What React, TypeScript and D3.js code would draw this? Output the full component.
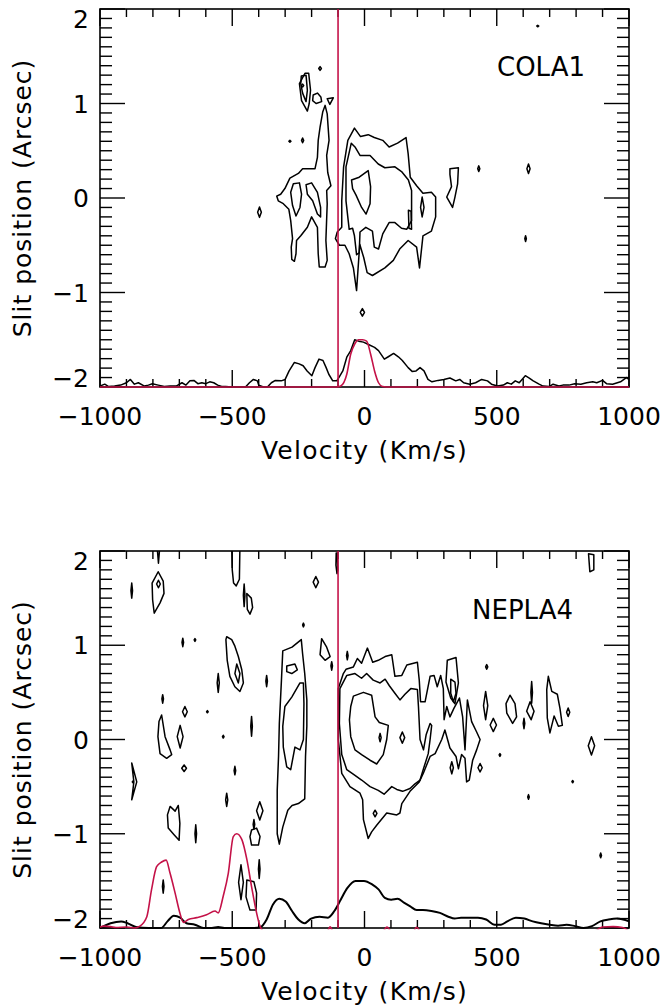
import React from 'react';
import * as d3 from 'd3';

type Pt = [number, number];
type Blob = [number, number, number, number]; // velocity, slit pos, half-width (km/s), half-height (arcsec)

// ---------- axes ----------
const velocityDomain: [number, number] = [-1000, 1000];
const slitDomain: [number, number] = [-2, 2];
const xMajorTicks = [-1000, -500, 0, 500, 1000];
const xMinorStep = 100;
const yMajorTicks = [-2, -1, 0, 1, 2];
const yMinorStep = 0.1;
const systemicVelocity = -100;

// ---------- COLA1 contours [velocity km/s, slit arcsec] ----------
const cola1LeftOuter: Pt[] = [[-149,0.98],[-141,0.89],[-134,0.61],[-143,0.45],[-139,0.27],[-127,0.13],[-143,0.08],[-141,-0.06],[-146,-0.45],[-141,-0.66],[-149,-0.73],[-171,-0.73],[-175,-0.59],[-178,-0.31],[-200,-0.2],[-216,-0.31],[-241,-0.4],[-257,-0.45],[-259,-0.59],[-265,-0.67],[-275,-0.65],[-277,-0.52],[-272,-0.43],[-279,-0.24],[-286,-0.12],[-307,-0.06],[-326,-0.03],[-332,0.02],[-317,0.04],[-301,0.1],[-282,0.21],[-250,0.26],[-234,0.31],[-187,0.31],[-178,0.43],[-175,0.61],[-168,0.75],[-158,0.91]];
const cola1LeftInnerA: Pt[] = [[-269,0.15],[-246,0.16],[-238,0.04],[-244,-0.1],[-259,-0.19],[-272,-0.08],[-279,0.06]];
const cola1LeftInnerB: Pt[] = [[-221,0.14],[-200,0.16],[-178,0.06],[-166,-0.1],[-166,-0.2],[-178,-0.17],[-196,-0.03],[-216,0.04]];
const cola1BlobOuter: Pt[] = [[-225,1.32],[-211,1.32],[-204,1.14],[-209,1.0],[-216,0.92],[-238,1.03],[-246,1.21]];
const cola1BlobInner: Pt[] = [[-239,1.29],[-221,1.3],[-216,1.14],[-221,1.02],[-234,1.11],[-241,1.21]];
const cola1Small1: Pt[] = [[-194,1.09],[-178,1.11],[-165,1.07],[-162,1.02],[-183,1.0],[-196,1.03]];
const cola1Small2: Pt[] = [[-141,1.05],[-118,1.06],[-131,0.99]];
const cola1CenterOuter: Pt[] = [[-38,0.74],[-15,0.65],[14,0.67],[37,0.64],[69,0.61],[93,0.54],[125,0.58],[157,0.64],[165,0.47],[173,0.22],[197,0.13],[221,0.05],[253,0.06],[269,0.01],[269,-0.2],[253,-0.35],[221,-0.4],[208,-0.74],[197,-0.52],[165,-0.45],[133,-0.54],[109,-0.66],[77,-0.74],[30,-0.82],[10,-0.79],[-3,-0.63],[-18,-0.49],[-30,-0.98],[-42,-0.74],[-58,-0.59],[-74,-0.5],[-95,-0.5],[-110,-0.43],[-103,-0.36],[-86,-0.31],[-86,-0.03],[-79,0.33],[-63,0.61]];
const cola1CenterMid: Pt[] = [[-50,0.58],[-36,0.54],[-17,0.45],[21,0.45],[52,0.36],[77,0.32],[115,0.33],[140,0.28],[166,0.19],[178,0.08],[178,-0.24],[160,-0.33],[140,-0.32],[115,-0.26],[93,-0.26],[69,-0.38],[53,-0.54],[37,-0.52],[30,-0.35],[5,-0.31],[-17,-0.36],[-20,-0.58],[-30,-0.6],[-38,-0.4],[-45,-0.32],[-58,-0.33],[-70,-0.03],[-70,0.33]];
const cola1CenterInner: Pt[] = [[-49,0.19],[-20,0.22],[14,0.29],[23,0.12],[21,-0.06],[6,-0.17],[-11,-0.1],[-32,0.03],[-45,0.1]];
const cola1LoopA: Pt[] = [[218,0.01],[225,-0.1],[218,-0.2],[212,-0.1]];
const cola1LoopB: Pt[] = [[166,-0.13],[176,-0.14],[178,-0.33],[168,-0.32]];
const cola1RightBlob: Pt[] = [[323,0.31],[355,0.32],[352,0.15],[342,0.01],[333,-0.1],[311,0.01],[329,0.12],[323,0.25]];
const cola1Rings: Pt[][] = [cola1LeftOuter, cola1LeftInnerA, cola1LeftInnerB, cola1BlobOuter, cola1BlobInner, cola1Small1, cola1Small2, cola1CenterOuter, cola1CenterMid, cola1CenterInner, cola1LoopA, cola1LoopB, cola1RightBlob];
const cola1Blobs: Blob[] = [[-168,1.37,5,0.02],[-234,1.19,4,0.015],[-282,0.6,4,0.01],[-234,0.61,4,0.025],[-397,-0.15,7,0.055],[-8,-1.21,8,0.04],[432,0.31,4,0.03],[620,0.31,6,0.05],[609,-0.43,3,0.03],[655,1.82,4,0.008]];

// COLA1 spectra [velocity, flux in arcsec-axis units above the lower edge]
const cola1SpecBlack: Pt[] = [[-1000,0.01],[-982,0.03],[-967,0.005],[-945,0.01],[-922,0.02],[-900,0.045],[-885,0.08],[-870,0.03],[-855,0.045],[-832,0.01],[-817,0.02],[-802,0.035],[-780,0.02],[-757,0.005],[-735,0.01],[-712,0.01],[-690,0.045],[-675,0.02],[-660,0.065],[-645,0.07],[-630,0.035],[-615,0.045],[-600,0.035],[-585,0.055],[-570,0.045],[-555,0.02],[-540,0.005],[-525,0.005],[-500,0],[-450,0],[-435,0.045],[-420,0.08],[-405,0.065],[-400,0.02],[-382,0],[-367,0],[-352,0.045],[-337,0.07],[-315,0.065],[-300,0.08],[-285,0.17],[-265,0.26],[-247,0.245],[-232,0.225],[-217,0.17],[-199,0.12],[-187,0.205],[-172,0.295],[-157,0.28],[-145,0.205],[-135,0.135],[-120,0.065],[-105,0.065],[-97,0.1],[-82,0.17],[-67,0.315],[-52,0.385],[-37,0.5],[-22,0.485],[-4,0.475],[15,0.45],[38,0.42],[53,0.385],[75,0.295],[90,0.32],[110,0.355],[128,0.32],[143,0.28],[165,0.205],[180,0.165],[195,0.17],[210,0.205],[225,0.17],[240,0.08],[255,0.055],[278,0.07],[300,0.08],[323,0.095],[345,0.065],[360,0.08],[375,0.045],[398,0.03],[420,0.045],[443,0.08],[465,0.065],[480,0.03],[503,0.01],[525,0.02],[540,0.045],[555,0.03],[570,0.065],[585,0.045],[608,0.12],[623,0.095],[638,0.065],[660,0.03],[675,0.01],[698,0.005],[713,0.03],[735,0.01],[750,0.02],[773,0.02],[795,0.035],[818,0.03],[840,0.045],[863,0.055],[878,0.045],[900,0.07],[915,0.035],[938,0.03],[968,0.055],[990,0.1],[1000,0.08]];
const cola1SpecRed: Pt[] = [[-1000,0],[-105,0],[-90,0.01],[-67,0.135],[-52,0.35],[-37,0.455],[-22,0.5],[-7,0.5],[8,0.485],[23,0.35],[38,0.17],[53,0.045],[68,0.005],[83,0],[1000,0]];

// ---------- NEPLA4 contours ----------
const nepla4CenterOuter: Pt[] = [[-99,0.54],[-80,0.7],[-70,0.745],[-42,0.77],[-27,0.86],[-11,0.81],[11,0.97],[31,0.82],[52,0.84],[78,0.88],[103,0.9],[115,0.67],[141,0.68],[160,0.79],[200,0.82],[207,0.63],[212,0.4],[229,0.4],[248,0.67],[263,0.68],[275,0.56],[288,0.68],[298,0.54],[301,0.21],[311,0.35],[323,0.24],[338,0.33],[359,0.44],[371,0.24],[380,-0.11],[389,0.42],[405,0.19],[424,0.08],[437,0.0],[424,-0.11],[409,-0.22],[396,-0.43],[386,-0.45],[380,-0.2],[367,-0.16],[355,-0.31],[346,-0.18],[323,-0.09],[304,0.1],[292,0.0],[267,-0.15],[248,-0.18],[222,-0.36],[207,-0.45],[172,-0.55],[141,-0.68],[134,-0.78],[122,-0.8],[84,-0.78],[46,-0.91],[27,-0.98],[14,-1.05],[-4,-0.85],[-7,-0.64],[-17,-0.57],[-55,-0.5],[-86,-0.36],[-99,0.0]];
const nepla4CenterMid: Pt[] = [[-93,0.54],[-67,0.68],[-36,0.7],[-11,0.65],[8,0.7],[33,0.63],[59,0.6],[78,0.64],[94,0.57],[115,0.49],[134,0.42],[153,0.48],[175,0.54],[200,0.53],[204,0.35],[210,0.0],[223,-0.11],[233,0.05],[248,0.17],[254,0.15],[248,0.0],[241,-0.15],[223,-0.31],[210,-0.43],[191,-0.47],[172,-0.52],[144,-0.55],[122,-0.53],[103,-0.5],[74,-0.58],[52,-0.54],[21,-0.5],[-11,-0.43],[-36,-0.38],[-67,-0.32],[-86,-0.16],[-95,0.17]];
const nepla4CenterInner: Pt[] = [[-42,0.46],[-4,0.5],[27,0.47],[40,0.24],[56,0.18],[90,0.15],[84,0.0],[71,-0.16],[46,-0.26],[21,-0.22],[-11,-0.16],[-36,-0.11],[-52,0.03],[-57,0.21],[-52,0.35]];
const nepla4WestOuter: Pt[] = [[-309,0.94],[-274,0.98],[-239,1.06],[-234,0.91],[-226,0.7],[-218,0.42],[-218,0.14],[-223,-0.18],[-226,-0.63],[-250,-0.68],[-274,-0.7],[-290,-0.75],[-309,-0.93],[-322,-1.11],[-330,-1.0],[-330,-0.54],[-325,-0.18],[-322,0.17],[-314,0.63]];
const nepla4WestInner: Pt[] = [[-244,0.6],[-231,0.6],[-229,0.38],[-231,0.0],[-244,-0.11],[-263,-0.08],[-279,-0.32],[-294,-0.29],[-307,-0.08],[-309,0.14],[-301,0.35],[-275,0.45]];
const nepla4WestSmall: Pt[] = [[-294,0.78],[-263,0.8],[-254,0.74],[-275,0.7],[-294,0.72]];
const nepla4Loop500Outer: Pt[] = [[-521,1.09],[-502,1.06],[-490,0.99],[-477,0.88],[-464,0.74],[-458,0.6],[-471,0.51],[-490,0.56],[-509,0.67],[-519,0.84],[-524,1.06]];
const nepla4Loop500Inner: Pt[] = [[-483,0.8],[-471,0.7],[-477,0.6],[-490,0.7]];
const nepla4Loop780Outer: Pt[] = [[-780,1.78],[-761,1.68],[-758,1.55],[-773,1.45],[-795,1.34],[-801,1.48],[-803,1.66]];
const nepla4Loop780Inner: Pt[] = [[-779,1.69],[-772,1.65],[-779,1.61],[-786,1.65]];
const nepla4TopA: Pt[] = [[-502,2.05],[-500,1.8],[-495,1.66],[-485,1.63],[-473,1.7],[-471,2.05]];
const nepla4TopB: Pt[] = [[-783,2.01],[-779,1.87],[-775,2.01]];
const nepla4TopC: Pt[] = [[-107,1.98],[-103,1.98],[-101,1.8],[-104,1.76],[-108,1.85]];
const nepla4TopD: Pt[] = [[847,1.97],[867,1.96],[867,1.8],[852,1.78]];
const nepla4Loop430: Pt[] = [[-445,1.55],[-428,1.5],[-423,1.4],[-433,1.33],[-443,1.38]];
const nepla4Loop150: Pt[] = [[-162,1.07],[-143,0.98],[-130,0.88],[-149,0.84],[-168,0.9]];
const nepla4Loop760: Pt[] = [[-767,0.26],[-754,0.03],[-735,-0.11],[-729,-0.16],[-748,-0.2],[-773,-0.15],[-781,0.03],[-777,0.19]];
const nepla4Arc870: Pt[] = [[-880,-0.25],[-861,-0.45],[-880,-0.64],[-872,-0.45]];
const nepla4Loop720: Pt[] = [[-735,-0.71],[-716,-0.76],[-704,-0.7],[-698,-0.89],[-701,-1.07],[-720,-1.01],[-742,-0.94],[-745,-0.8]];
const nepla4Loop415: Pt[] = [[-427,-0.96],[-408,-0.94],[-395,-1.03],[-401,-1.12],[-427,-1.12],[-433,-1.03]];
const nepla4Loop430b: Pt[] = [[-445,-1.49],[-418,-1.51],[-408,-1.63],[-410,-1.81],[-433,-1.81],[-448,-1.67]];
const nepla4Tall330: Pt[] = [[313,0.84],[346,0.87],[355,0.6],[342,0.38],[326,0.44],[308,0.61]];
const nepla4Tall330Inner: Pt[] = [[326,0.64],[342,0.61],[346,0.49],[336,0.4],[326,0.49]];
const nepla4Loop555: Pt[] = [[550,0.47],[569,0.38],[575,0.24],[560,0.17],[538,0.28],[535,0.38]];
const nepla4Loop625: Pt[] = [[626,0.4],[641,0.3],[630,0.21],[613,0.3]];
const nepla4Loop715: Pt[] = [[695,0.67],[708,0.51],[729,0.48],[739,0.33],[748,0.15],[733,0.14],[717,0.25],[701,0.07],[691,0.23],[689,0.53]];
const nepla4Rings: Pt[][] = [nepla4CenterOuter, nepla4CenterMid, nepla4CenterInner, nepla4WestOuter, nepla4WestInner, nepla4WestSmall, nepla4Loop500Outer, nepla4Loop500Inner, nepla4Loop780Outer, nepla4Loop780Inner, nepla4TopA, nepla4TopB, nepla4TopC, nepla4TopD, nepla4Loop430, nepla4Loop150, nepla4Loop760, nepla4Arc870, nepla4Loop720, nepla4Loop415, nepla4Loop430b, nepla4Tall330, nepla4Tall330Inner, nepla4Loop555, nepla4Loop625, nepla4Loop715];
const nepla4Blobs: Blob[] = [[-880,1.58,3,0.08],[-455,1.53,3,0.12],[-184,1.67,10,0.06],[-231,1.215,3,0.02],[-687,1.03,3,0.045],[-641,1.056,3,0.015],[-553,0.6,4,0.1],[-370,0.62,3,0.06],[-124,0.78,3,0.045],[-65,0.89,3,0.045],[-763,0.43,3,0.045],[-679,0.295,9,0.055],[-594,0.295,3,0.012],[-697,0.03,11,0.12],[-534,0.03,3,0.015],[-427,0.14,3,0.105],[-682,-0.305,9,0.035],[-490,-0.33,3,0.045],[-876,-0.45,2,0.008],[-521,-0.64,4,0.07],[-396,-0.757,12,0.097],[-638,-1.0,3,0.095],[-418,-0.9,3,0.05],[-398,-1.375,3,0.1],[-467,-1.515,9,0.185],[-761,-1.56,3,0.07],[59,0.02,4,0.045],[143,0.02,9,0.06],[40,-0.785,7,0.035],[462,0.77,4,0.025],[458,0.36,8,0.15],[487,0.154,12,0.07],[512,-0.164,3,0.015],[603,0.17,3,0.055],[632,0.5,3,0.115],[620,-0.61,3,0.025],[770,0.29,6,0.045],[787,-0.447,3,0.012],[858,-0.067,12,0.097],[893,-1.23,3,0.025],[330,-0.3,6,0.065],[437,-0.3,8,0.045]];

const nepla4SpecBlack: Pt[] = [[-1000,0],[-960,0.05],[-920,0.07],[-896,0.05],[-864,0.01],[-816,0],[-769,0],[-745,0.07],[-721,0.13],[-697,0.11],[-673,0.05],[-641,0.035],[-609,0],[-577,0],[-553,0.01],[-530,0],[-417,0],[-393,0.01],[-370,0.09],[-346,0.25],[-322,0.31],[-298,0.28],[-274,0.18],[-250,0.09],[-226,0.05],[-202,0.1],[-170,0.12],[-138,0.11],[-114,0.18],[-90,0.3],[-66,0.42],[-34,0.5],[-2,0.5],[30,0.46],[53,0.41],[77,0.32],[101,0.3],[125,0.31],[149,0.27],[173,0.23],[197,0.19],[221,0.19],[253,0.18],[285,0.16],[317,0.12],[341,0.1],[365,0.11],[397,0.11],[429,0.11],[460,0.09],[492,0.035],[516,0.035],[540,0.07],[572,0.11],[604,0.1],[636,0.07],[668,0.05],[700,0.035],[732,0.025],[764,0.035],[796,0.02],[828,0],[860,0.02],[892,0.07],[923,0.09],[955,0.1],[1000,0.07]];
const nepla4SpecRed: Pt[] = [[-1000,0.01],[-985,0.02],[-960,0.015],[-940,0.005],[-900,0.01],[-870,0.0],[-849,0.02],[-823,0.12],[-805,0.41],[-786,0.65],[-767,0.7],[-750,0.72],[-735,0.58],[-716,0.37],[-698,0.16],[-685,0.06],[-666,0.09],[-634,0.11],[-597,0.14],[-565,0.18],[-553,0.16],[-534,0.34],[-515,0.58],[-496,0.97],[-483,1.0],[-464,0.94],[-445,0.73],[-427,0.44],[-408,0.16],[-395,0.02],[-382,-0.03],[-140,-0.03],[-130,0.012],[-120,-0.03],[70,-0.03],[85,0.01],[100,-0.03],[185,-0.03],[197,0.008],[210,-0.03],[870,-0.03],[900,0.01],[940,0.015],[975,0.005],[1000,-0.03]];

// ---------- layout ----------
const LEFT = 100;
const RIGHT = 629;
const RED = '#c41248';
const FONT = 'DejaVu Sans';

const fmt = (v: number) => String(v).replace('-', '\u2212');

function Panel(props: {
  id: string; top: number; bottom: number; label: string; labelX: number; labelBaseline: number;
  rings: Pt[][]; blobs: Blob[]; specBlack: Pt[]; specRed: Pt[]; smoothBlack: boolean; blackWidth: number;
}) {
  const { id, top, bottom, label, labelX, labelBaseline, rings, blobs, specBlack, specRed, smoothBlack, blackWidth } = props;
  const x = d3.scaleLinear().domain(velocityDomain).range([LEFT, RIGHT]);
  const y = d3.scaleLinear().domain(slitDomain).range([bottom, top]);
  const fy = d3.scaleLinear().domain([0, 1]).range([y(-2), y(-1)]);
  const ring = d3.line<Pt>().x(d => x(d[0])).y(d => y(d[1])).curve(d3.curveLinearClosed);
  const blackLine = d3.line<Pt>().x(d => x(d[0])).y(d => fy(d[1])).curve(smoothBlack ? d3.curveMonotoneX : d3.curveLinear);
  const redLine = d3.line<Pt>().x(d => x(d[0])).y(d => fy(d[1])).curve(d3.curveMonotoneX);
  const diamond = (b: Blob): Pt[] => [[b[0] - b[2], b[1]], [b[0], b[1] + b[3]], [b[0] + b[2], b[1]], [b[0], b[1] - b[3]]];
  const xMinor = d3.range(velocityDomain[0], velocityDomain[1] + 1, xMinorStep);
  const yMinor = d3.range(0, 41).map(i => slitDomain[0] + i * yMinorStep);
  const midY = (top + bottom) / 2;
  return (
    <g>
      <defs>
        <clipPath id={`${id}-c`}><rect x={LEFT} y={top} width={RIGHT - LEFT} height={bottom - top} /></clipPath>
        <clipPath id={`${id}-s`}><rect x={LEFT} y={top} width={RIGHT - LEFT} height={bottom - top + 1.2} /></clipPath>
      </defs>
      <rect x={LEFT} y={top} width={RIGHT - LEFT} height={bottom - top} fill="none" stroke="#000" strokeWidth={1.6} />
      <g stroke="#000" strokeWidth={1.4}>
        {xMinor.map(v => {
          const len = xMajorTicks.includes(v) ? 17 : 8;
          return (
            <g key={`xt${v}`}>
              <line x1={x(v)} x2={x(v)} y1={bottom} y2={bottom - len} />
              <line x1={x(v)} x2={x(v)} y1={top} y2={top + len} />
            </g>
          );
        })}
        {yMinor.map((t, i) => {
          const len = i % 10 === 0 ? 25 : 12;
          return (
            <g key={`yt${i}`}>
              <line x1={LEFT} x2={LEFT + len} y1={y(t)} y2={y(t)} />
              <line x1={RIGHT} x2={RIGHT - len} y1={y(t)} y2={y(t)} />
            </g>
          );
        })}
      </g>
      <g clipPath={`url(#${id}-c)`} fill="none" stroke="#000" strokeWidth={1.5} strokeLinejoin="round">
        {rings.map((r, i) => <path key={`r${i}`} d={ring(r) || ''} />)}
        {blobs.map((b, i) => <path key={`b${i}`} d={ring(diamond(b)) || ''} />)}
      </g>
      <g clipPath={`url(#${id}-s)`} fill="none" strokeLinejoin="round">
        <path d={blackLine(specBlack) || ''} stroke="#000" strokeWidth={blackWidth} />
        <path d={redLine(specRed) || ''} stroke={RED} strokeWidth={1.6} />
      </g>
      <line x1={x(systemicVelocity)} x2={x(systemicVelocity)} y1={top} y2={bottom} stroke={RED} strokeWidth={1.6} />
      <g fontFamily={FONT} fontSize={25} fill="#000">
        {xMajorTicks.map(v => (
          <text key={`xl${v}`} x={x(v)} y={bottom + 38} textAnchor="middle">{fmt(v)}</text>
        ))}
        {yMajorTicks.map(t => (
          <text key={`yl${t}`} x={89} y={Math.min(Math.max(y(t) + 9, top + 19), bottom)} textAnchor="end">{fmt(t)}</text>
        ))}
        <text x={(LEFT + RIGHT) / 2} y={bottom + 72} textAnchor="middle" letterSpacing={1.3}>Velocity (Km/s)</text>
        <text transform={`translate(31, ${midY}) rotate(-90)`} textAnchor="middle" letterSpacing={1}>Slit position (Arcsec)</text>
        <text x={labelX} y={labelBaseline} fontSize={26}>{label}</text>
      </g>
    </g>
  );
}

export default function App() {
  return (
    <svg width={663} height={1007} style={{ position: 'absolute', left: 0, top: 0, background: '#fff' }}>
      <rect x={0} y={0} width={663} height={1007} fill="#fff" />
      <Panel id="p1" top={9} bottom={387} label="COLA1" labelX={497} labelBaseline={76}
        rings={cola1Rings} blobs={cola1Blobs} specBlack={cola1SpecBlack} specRed={cola1SpecRed} smoothBlack={false} blackWidth={1.5} />
      <Panel id="p2" top={551} bottom={928} label="NEPLA4" labelX={472} labelBaseline={619}
        rings={nepla4Rings} blobs={nepla4Blobs} specBlack={nepla4SpecBlack} specRed={nepla4SpecRed} smoothBlack={true} blackWidth={2} />
    </svg>
  );
}
